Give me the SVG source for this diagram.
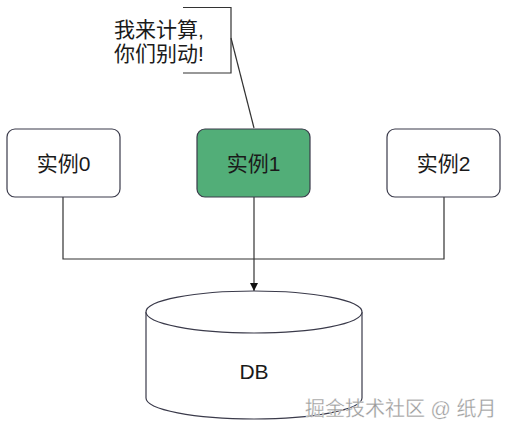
<svg xmlns="http://www.w3.org/2000/svg" width="517" height="434" viewBox="0 0 517 434">
<defs>
<style>
.box{stroke:#3a3a4a;stroke-width:1.2}
.lbl{font-family:"Liberation Sans","Noto Sans CJK SC",sans-serif;font-size:21px;fill:#1a1a1a;text-anchor:middle}
.ct{font-family:"Liberation Sans","Noto Sans CJK SC",sans-serif;font-size:21px;fill:#1a1a1a}
.ln{fill:none;stroke:#333;stroke-width:1.2}
</style>
<marker id="arr" viewBox="0 0 10 10" refX="10" refY="5" markerWidth="8" markerHeight="8" orient="auto" markerUnits="userSpaceOnUse"><path d="M0,0 L10,5 L0,10 z" fill="#111"/></marker>
</defs>
<rect width="517" height="434" fill="#fff"/>
<g id="callout">
<path class="ln" d="M183,7.5 H231 V73 H183"/>
<path class="ln" d="M231,38 L254,128"/>
<text class="ct" x="114" y="37">我来计算,</text>
<text class="ct" x="114" y="61">你们别动!</text>
</g>
<g id="connectors">
<path class="ln" d="M63,197 V259 H444 V197"/>
<path class="ln" d="M254,197 V291" marker-end="url(#arr)"/>
</g>
<g id="inst0">
<rect class="box" x="7" y="129" width="113" height="68" rx="8" fill="#fff"/>
<text class="lbl" x="63.5" y="171">实例0</text>
</g>
<g id="inst1">
<rect class="box" x="197" y="129" width="113" height="68" rx="8" fill="#52ae78"/>
<text class="lbl" x="253.5" y="171">实例1</text>
</g>
<g id="inst2">
<rect class="box" x="387" y="129" width="113" height="68" rx="8" fill="#fff"/>
<text class="lbl" x="443.5" y="171">实例2</text>
</g>
<g id="db">
<path class="box" fill="#fff" d="M146,312 V398 A108,21 0 0 0 362,398 V312"/>
<ellipse class="box" cx="254" cy="312" rx="108" ry="21" fill="#fff"/>
<text class="lbl" x="254" y="379">DB</text>
</g>
<text x="305" y="416" font-family="Liberation Sans,Noto Sans CJK SC,sans-serif" font-size="20" fill="#9a9a9a" stroke="#fff" stroke-width="0.3">掘金技术社区 @ 纸月</text>
</svg>
